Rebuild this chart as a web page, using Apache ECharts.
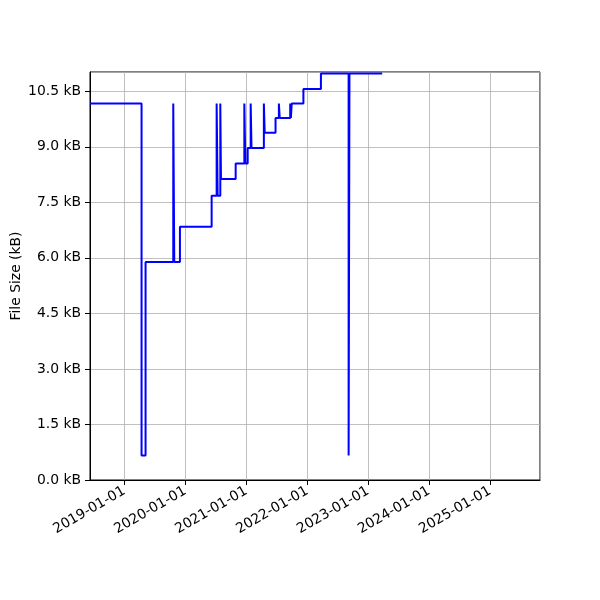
<!DOCTYPE html>
<html>
<head>
<meta charset="utf-8">
<script src="https://cdn.jsdelivr.net/npm/echarts@6/dist/echarts.min.js"></script>
<style>
  html, body { margin: 0; padding: 0; background: #fff; }
  #chart { width: 600px; height: 600px; }
</style>
</head>
<body>
<div id="chart"></div>
<script>
// dates where the file size changed, and the size (kB) from that date on
const changeDates = [
  '2018-06-09', '2019-04-14', '2019-05-08', '2019-10-21', '2019-10-27',
  '2019-11-30', '2020-06-07', '2020-07-07', '2020-07-13', '2020-07-29',
  '2020-08-02', '2020-10-29', '2020-12-20', '2020-12-26', '2021-01-09',
  '2021-01-27', '2021-02-01', '2021-04-16', '2021-04-21', '2021-06-25',
  '2021-07-15', '2021-07-20', '2021-09-21', '2021-09-25', '2021-09-30',
  '2021-12-09', '2022-03-24', '2022-09-06', '2022-09-11', '2023-03-26'
];
const sizesKB = [
  10.17, 0.66, 5.89, 10.17, 5.89,
  6.84, 7.68, 10.17, 7.68, 10.17,
  8.13, 8.55, 10.17, 8.55, 8.97,
  10.17, 8.97, 10.17, 9.38, 9.78,
  10.17, 9.78, 10.17, 9.78, 10.17,
  10.56, 10.98, 0.66, 10.98, 10.98
];
const xRange = ['2018-06-09', '2025-10-27'];
const yTickStep = 1.5;
const yTop = 11.02;

function toTime(s) {
  const p = s.split('-').map(Number);
  return new Date(p[0], p[1] - 1, p[2]).getTime();
}
function pad(n) { return n < 10 ? '0' + n : '' + n; }
function fmtDate(v) {
  const d = new Date(v);
  return d.getFullYear() + '-' + pad(d.getMonth() + 1) + '-' + pad(d.getDate());
}

const points = changeDates.map((d, i) => [toTime(d), sizesKB[i]]);
const DAY = 24 * 3600 * 1000;
const font = 'DejaVu Sans';
const gridColor = '#b0b0b0';

const chart = echarts.init(document.getElementById('chart'), null, { renderer: 'canvas' });
chart.setOption({
  animation: false,
  grid: {
    left: 90, right: 60, top: 72, bottom: 120,
    outerBoundsMode: 'none',
    containLabel: false,
    show: true, borderColor: '#000', borderWidth: 1, backgroundColor: 'transparent'
  },
  xAxis: {
    type: 'time',
    min: toTime(xRange[0]),
    max: toTime(xRange[1]),
    splitNumber: 7,
    minInterval: 365 * DAY,
    maxInterval: 366 * DAY,
    axisLine: { show: true, lineStyle: { color: '#000', width: 1 } },
    axisTick: { show: true, length: 5, lineStyle: { color: '#000' } },
    splitLine: { show: true, lineStyle: { color: gridColor, width: 0.8 } },
    minorTick: { show: false },
    axisLabel: {
      rotate: 30,
      margin: 10,
      color: '#000',
      fontFamily: font,
      fontSize: 13.9,
      showMinLabel: false,
      showMaxLabel: false,
      formatter: fmtDate
    }
  },
  yAxis: {
    type: 'value',
    min: 0,
    max: yTop,
    interval: yTickStep,
    name: 'File Size (kB)',
    nameLocation: 'middle',
    nameGap: 67,
    nameMoveOverlap: false,
    nameTextStyle: { color: '#000', fontFamily: font, fontSize: 13.9 },
    axisLine: { show: true, lineStyle: { color: '#000', width: 1 } },
    axisTick: { show: true, length: 5, lineStyle: { color: '#000' } },
    splitLine: { show: true, lineStyle: { color: gridColor, width: 0.8 } },
    axisLabel: {
      margin: 9,
      color: '#000',
      fontFamily: font,
      fontSize: 13.9,
      showMaxLabel: false,
      formatter: v => v.toFixed(1) + ' kB'
    }
  },
  series: [{
    type: 'line',
    step: 'end',
    data: points,
    showSymbol: false,
    symbol: 'none',
    clip: true,
    lineStyle: { color: '#0000ff', width: 2 },
    itemStyle: { color: '#0000ff' }
  }]
});
</script>
</body>
</html>
